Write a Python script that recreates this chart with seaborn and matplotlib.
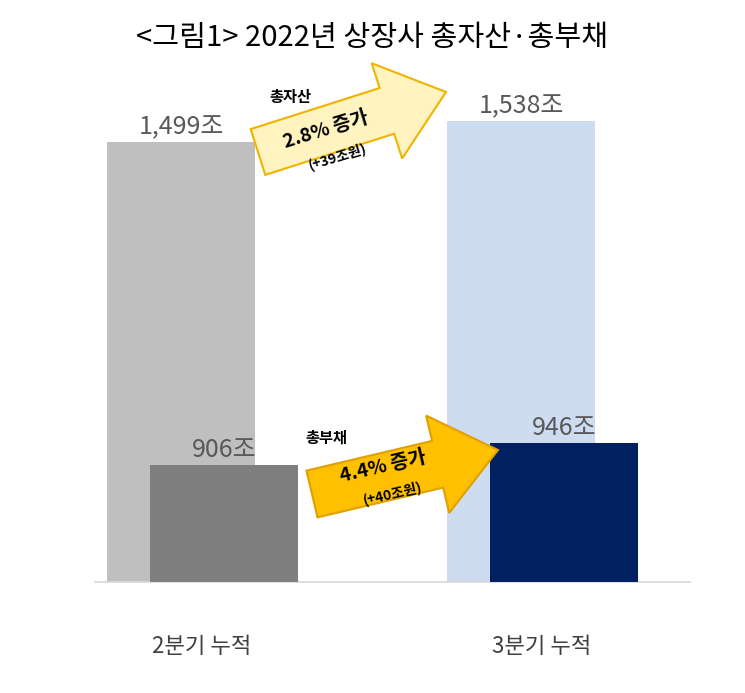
import matplotlib
matplotlib.use("Agg")
import matplotlib.pyplot as plt
import seaborn as sns
from matplotlib.patches import FancyArrow
from matplotlib.transforms import IdentityTransform

sns.set_theme(style="white")
plt.rcParams['font.family'] = ['Noto Sans CJK KR', 'DejaVu Sans']

quarters = ["2분기 누적", "3분기 누적"]
total_assets = [1499, 1538]
total_liab = [906, 946]
asset_colors = ["#bfbfbf", "#cddcf0"]
liab_colors = ["#7f7f7f", "#002060"]

W, H = 745, 693
fig = plt.figure(figsize=(W/100, H/100), dpi=100)
ax = fig.add_axes([95/W, 1-582/H, 595/W, 522/H])
xs = [0, 1]
bw = 0.435
for i, x in enumerate(xs):
    ax.bar(x-0.062, total_assets[i]-690, bottom=690, width=bw, color=asset_colors[i], linewidth=0, zorder=2)
    ax.bar(x+0.065, total_liab[i]-690, bottom=690, width=bw, color=liab_colors[i], linewidth=0, zorder=3)
    ax.text(x-0.062, total_assets[i]+3, f"{total_assets[i]:,}조", ha="center", va="bottom", fontsize=18, color="#595959")
    ax.text(x+0.065, total_liab[i]+3, f"{total_liab[i]:,}조", ha="center", va="bottom", fontsize=18, color="#595959")
ax.set_xlim(-0.315, 1.435)
ax.set_ylim(690, 1650)
ax.set_xticks(xs)
ax.set_xticklabels(quarters, fontsize=16, color="#404040")
ax.tick_params(axis="x", length=0, pad=38)
ax.set_yticks([])
for s in ["top", "left", "right"]:
    ax.spines[s].set_visible(False)
ax.spines["bottom"].set_color("#d9d9d9")

fig.text(0.5, 1-38/H, "<그림1> 2022년 상장사 총자산·총부채", ha="center", va="center", fontsize=21, color="black")

def arrow(x0, y0, x1, y1, fc, ec):
    a = FancyArrow(x0, H-y0, x1-x0, (H-y1)-(H-y0), width=48, head_width=100, head_length=62,
                   length_includes_head=True, transform=IdentityTransform(), fc=fc, ec=ec, lw=1.5, zorder=5)
    fig.add_artist(a)

arrow(258, 152, 446, 92, "#fff4c0", "#f0b400")
arrow(312, 494, 498, 450, "#ffc000", "#e0a000")

def t(x, y, s, size, rot=0, bold=True):
    fig.text(x/W, 1-y/H, s, ha="center", va="center", fontsize=size, rotation=rot,
             fontweight="bold" if bold else "normal", color="black", zorder=6)

t(290, 97, "총자산", 11)
t(326, 130, "2.8% 증가", 14, 17)
t(338, 156, "(+39조원)", 10, 17)
t(326, 438, "총부채", 11)
t(383, 467, "4.4% 증가", 14, 13)
t(393, 493, "(+40조원)", 10, 13)

fig.savefig("out.png", dpi=100)
